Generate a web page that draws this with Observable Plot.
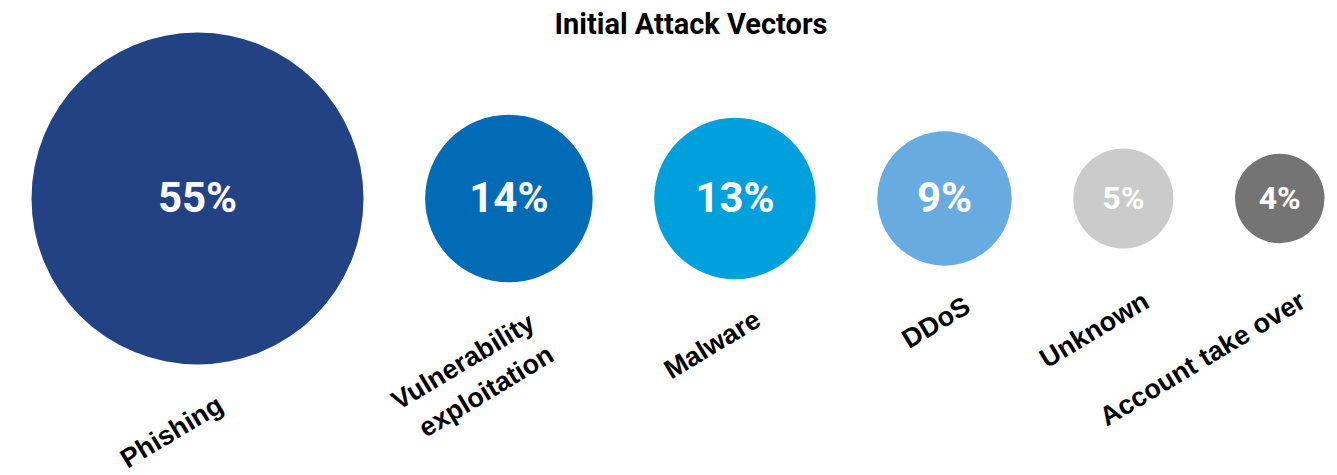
<!DOCTYPE html>
<html>
<head>
<meta charset="utf-8">
<script src="https://cdn.jsdelivr.net/npm/d3@7"></script>
<script src="https://cdn.jsdelivr.net/npm/@observablehq/plot@0.6"></script>
<style>
  html, body { margin: 0; padding: 0; background: #fff; }
  #title {
    position: relative;
    z-index: 1;
    box-sizing: border-box;
    height: 30px;
    padding-top: 10px;
    padding-left: 45px;
    line-height: 28px;
    text-align: center;
    font-family: Roboto, sans-serif;
    font-weight: 700;
    font-size: 29px;
    color: #000;
    white-space: nowrap;
  }
  #chart svg { display: block; background: transparent !important; }
</style>
</head>
<body>
<div id="title">Initial Attack Vectors</div>
<div id="chart"></div>
<script>
// ---- data ----
const categories = ["Phishing", "Vulnerability\nexploitation", "Malware", "DDoS", "Unknown", "Account take over"];
const values = [55, 14, 13, 9, 5, 4];
const colors = ["#224284", "#016bb5", "#00a0dc", "#67abe0", "#cbcbcb", "#747474"];

// ---- layout (bubbles packed in a row, area proportional to value) ----
const W = 1337, H = 445;
const marginLeft = 31, marginRight = 13;
const rMax = 166;                       // radius of the largest bubble (px)
const k = rMax / Math.sqrt(d3.max(values)); // px per sqrt-unit
const sq = values.map(v => Math.sqrt(v));
const plotW = W - marginLeft - marginRight;
const gap = (plotW / k - 2 * d3.sum(sq)) / (values.length - 1);
let acc = 0;
const data = categories.map((c, i) => {
  const cx = acc + sq[i];
  acc = cx + sq[i] + gap;
  return {category: c, value: values[i], pos: cx, half: sq[i]};
});
const total = acc - gap;
const cyPx = 168;
const minLabelOffset = 62 / k;  // labels never sit closer than this to the row's centre line

const chart = Plot.plot({
  width: W,
  height: H,
  marginLeft, marginRight,
  marginTop: 0, marginBottom: 0,
  style: {background: "transparent"},
  x: {domain: [0, total], axis: null},
  y: {domain: [-cyPx / k, (H - cyPx) / k], reverse: true, axis: null},
  r: {type: "sqrt", domain: [0, d3.max(values)], range: [0, rMax]},
  color: {domain: categories, range: colors},
  marks: [
    Plot.dot(data, {x: "pos", y: () => 0, r: "value", fill: "category", stroke: null}),
    Plot.text(data, {
      x: "pos", y: () => 0,
      text: d => `${d.value}%`,
      fill: "#fff",
      fontFamily: "Roboto",
      fontWeight: 700,
      fontSize: d => d.value >= 9 ? 42 : 32,
      lineAnchor: "middle"
    }),
    Plot.text(data, {
      x: "pos", y: d => Math.max(d.half, minLabelOffset),
      text: "category",
      textAnchor: "end",
      lineAnchor: "top",
      rotate: -31,
      dx: 14, dy: 23,
      lineHeight: 1.38,
      fill: "#000",
      fontFamily: "Liberation Sans",
      fontWeight: 700,
      fontSize: 27
    })
  ]
});
document.getElementById("chart").appendChild(chart);
</script>
</body>
</html>
